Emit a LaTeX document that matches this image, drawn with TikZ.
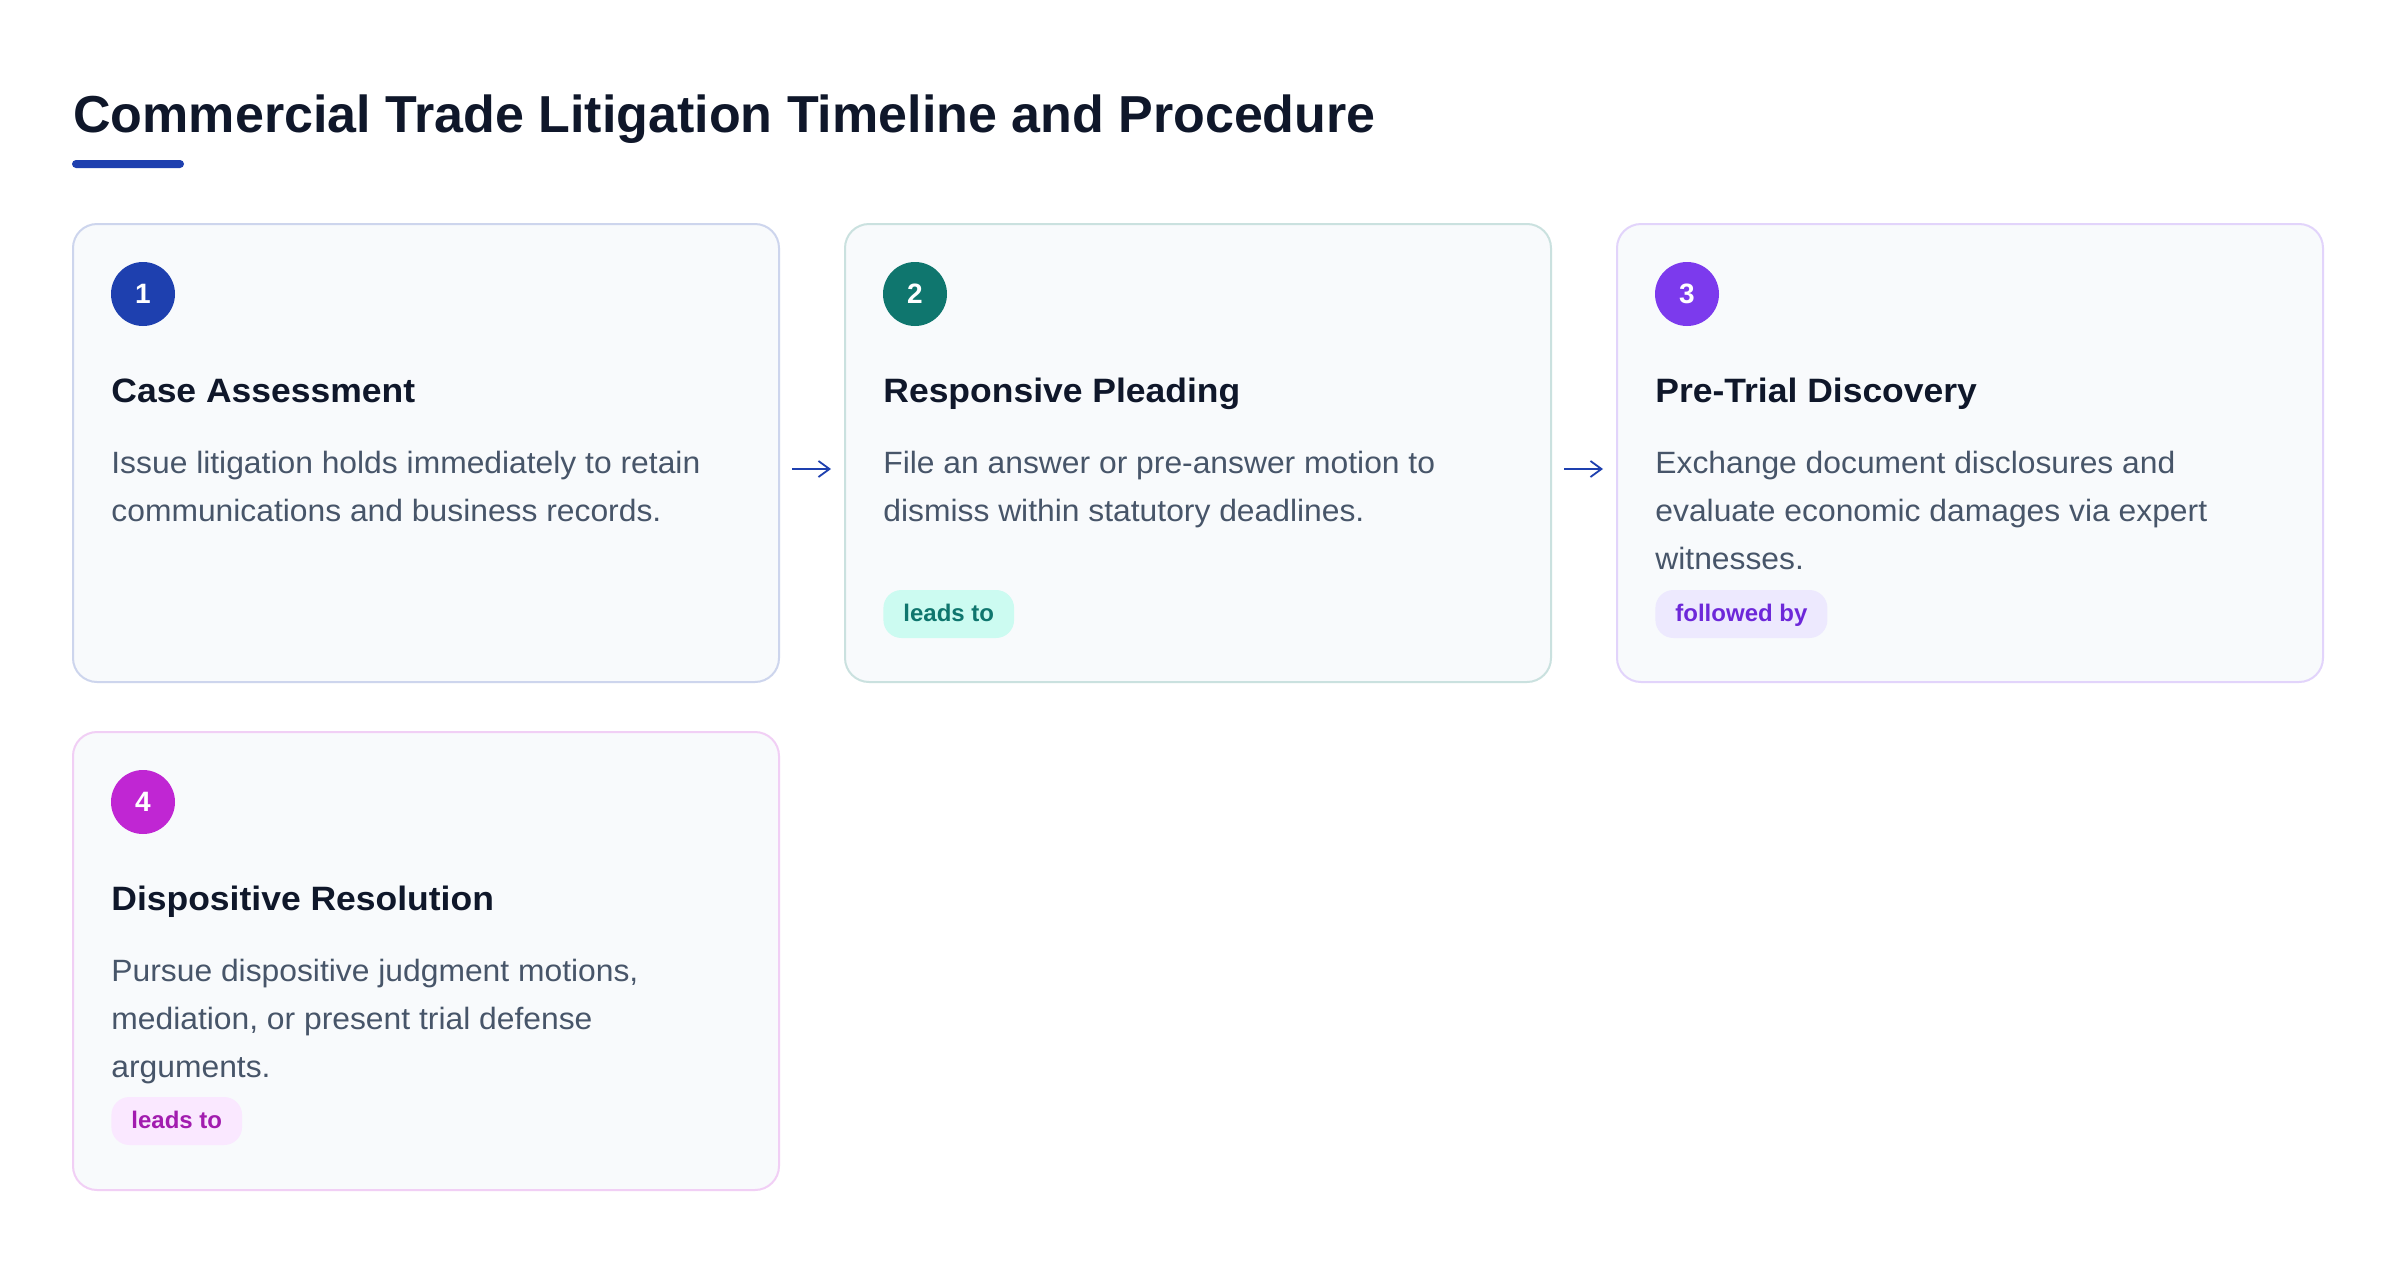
\documentclass[tikz,border=0pt]{standalone}
\usepackage{fontspec}
\setmainfont{Liberation Sans}
\newfontfamily\headfam[FakeStretch=1.05]{Liberation Sans}
\newfontfamily\bodyfam[FakeStretch=1.033]{Liberation Sans}
\usetikzlibrary{arrows.meta}
\definecolor{ink}{HTML}{0F172A}
\definecolor{slate}{HTML}{475569}
\definecolor{accA}{HTML}{1E40AF}
\definecolor{accB}{HTML}{0F766E}
\definecolor{accC}{HTML}{7C3AED}
\definecolor{accD}{HTML}{C026D3}
\definecolor{cardbg}{HTML}{F8FAFC}
\definecolor{tagB}{HTML}{CCFBF1}
\definecolor{tagC}{HTML}{EDE9FE}
\definecolor{tagD}{HTML}{FAE8FF}
\definecolor{tagCtext}{HTML}{6D28D9}
\definecolor{tagDtext}{HTML}{A21CAF}
\tikzset{
  card/.style={draw, line width=1pt, fill=cardbg, rounded corners=12pt,
    minimum width=353pt, minimum height=229pt, inner sep=0pt},
  numdot/.style={circle, inner sep=0pt, minimum size=32pt, text=white,
    font=\fontsize{14}{16}\selectfont\bfseries},
  cardtitle/.style={anchor=base west, inner sep=0pt, text=ink,
    font=\headfam\fontsize{16.9}{20}\selectfont\bfseries},
  bodyline/.style={anchor=base west, inner sep=0pt, text=slate,
    font=\bodyfam\fontsize{15.4}{24}\selectfont},
  tag/.style={anchor=west, rounded corners=9pt, inner xsep=10pt, inner ysep=0pt,
    minimum height=24pt, text height=9pt, text depth=2pt,
    font=\fontsize{12}{14}\selectfont\bfseries},
  flow/.style={draw=accA, line width=0.9pt, -{Straight Barb[length=5.5pt,width=8pt,line width=0.9pt]}}
}
\begin{document}
\begin{tikzpicture}[x=0.5pt,y=-0.5pt]
\useasboundingbox[fill=white] (0,0) rectangle (2400,1264);
% title
\node[anchor=base west, inner sep=0pt, text=ink, font=\fontsize{26}{31}\selectfont\bfseries]
  (title) at (73,132) {Commercial Trade Litigation Timeline and Procedure};
\fill[accA, rounded corners=2pt] (72,160) rectangle (184,168);
% cards
\node[card, draw=accA!22] (c1) at (426,453) {};
\node[card, draw=accB!22] (c2) at (1198,453) {};
\node[card, draw=accC!22] (c3) at (1970,453) {};
\node[card, draw=accD!22] (c4) at (426,961) {};
% card 1
\node[numdot, fill=accA] (n1) at (143,294) {1};
\node[cardtitle] (t1) at (111,402) {Case Assessment};
\node[bodyline] (b1a) at (111,473) {Issue litigation holds immediately to retain};
\node[bodyline] (b1b) at (111,521) {communications and business records.};
% card 2
\node[numdot, fill=accB] (n2) at (915,294) {2};
\node[cardtitle] (t2) at (883,402) {Responsive Pleading};
\node[bodyline] (b2a) at (883,473) {File an answer or pre-answer motion to};
\node[bodyline] (b2b) at (883,521) {dismiss within statutory deadlines.};
\node[tag, fill=tagB, text=accB] (g2) at (883,614) {leads to};
% card 3
\node[numdot, fill=accC] (n3) at (1687,294) {3};
\node[cardtitle] (t3) at (1655,402) {Pre-Trial Discovery};
\node[bodyline] (b3a) at (1655,473) {Exchange document disclosures and};
\node[bodyline] (b3b) at (1655,521) {evaluate economic damages via expert};
\node[bodyline] (b3c) at (1655,569) {witnesses.};
\node[tag, fill=tagC, text=tagCtext] (g3) at (1655,614) {followed by};
% card 4
\node[numdot, fill=accD] (n4) at (143,802) {4};
\node[cardtitle] (t4) at (111,910) {Dispositive Resolution};
\node[bodyline] (b4a) at (111,981) {Pursue dispositive judgment motions,};
\node[bodyline] (b4b) at (111,1029) {mediation, or present trial defense};
\node[bodyline] (b4c) at (111,1077) {arguments.};
\node[tag, fill=tagD, text=tagDtext] (g4) at (111,1121) {leads to};
% connectors
\draw[flow] ([xshift=6pt,yshift=-8pt]c1.east) -- ([xshift=-6.5pt,yshift=-8pt]c2.west);
\draw[flow] ([xshift=6pt,yshift=-8pt]c2.east) -- ([xshift=-6.5pt,yshift=-8pt]c3.west);
\end{tikzpicture}
\end{document}
